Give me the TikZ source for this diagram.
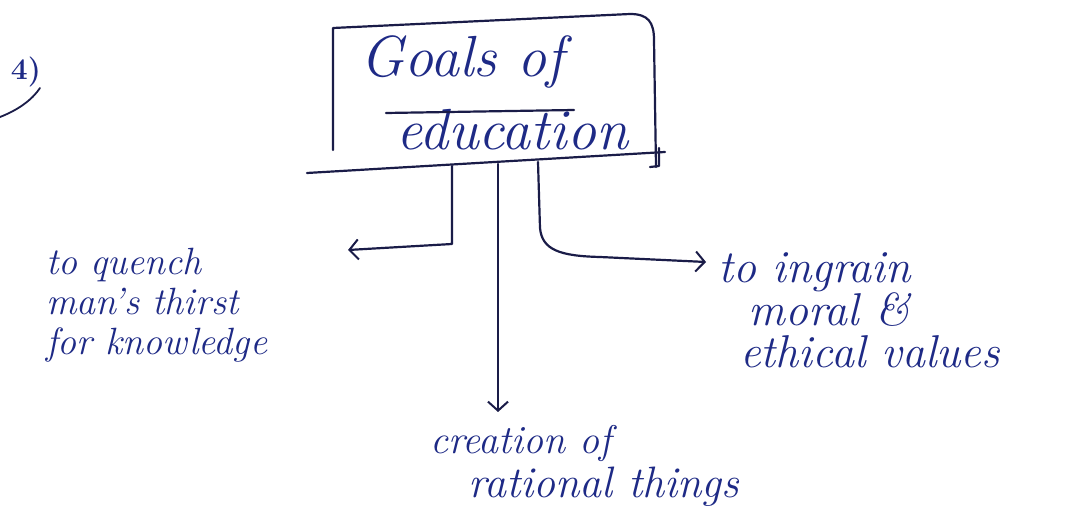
\documentclass[tikz,border=0pt]{standalone}
\usetikzlibrary{arrows.meta}
\definecolor{ink}{HTML}{1E2A86}
\definecolor{pen}{HTML}{1A1C48}
\begin{document}
\begin{tikzpicture}[x=1pt,y=-1pt,
  line/.style={draw=pen,line width=2.2pt,line cap=round,line join=round},
  conn/.style={line,-{Straight Barb[length=9pt,width=20pt,line width=2pt]}},
  lbl/.style={text=ink,align=left,inner sep=0pt,anchor=west},
  ttl/.style={text=ink,font=\fontsize{58}{60}\selectfont\itshape,inner sep=0pt}]
\useasboundingbox[fill=white] (0,0) rectangle (1072,518);
% number mark
\node[text=ink,font=\fontsize{30}{32}\selectfont\bfseries,inner sep=0pt] (num) at (26,72) {4)};
\draw[draw=pen,line width=1.8pt,line cap=round] (40,88) .. controls (32,100) and (18,110) .. (0,117);
% box
\draw[line] (333,150) -- (333,28) -- (630,14) .. controls (648,14) and (654,22) .. (654,40) -- (656,167);
\draw[line] (307,173) -- (665,152);
\draw[line] (659,148) -- (659,166) -- (650,167);
\node[ttl] (g1) at (462,62) {Goals of};
\node[ttl] (g2) at (512,130) {education};
\draw[line] (386,113) -- (574,110);
\coordinate (sL) at (452,166);
\coordinate (sM) at (498,164);
\coordinate (sR) at (538,162);
% labels
\node[lbl,font=\fontsize{38}{40}\selectfont\itshape] (left) at (46,305) {to quench\\man's thirst\\for knowledge};
\node[lbl,font=\fontsize{46}{42}\selectfont\itshape] (right) at (718,310) {to ingrain\\\hspace*{30pt}moral \&\\\hspace*{22pt}ethical values};
\node[lbl,font=\fontsize{40}{44}\selectfont\itshape] (bottom) at (430,466) {creation of\\\hspace*{38pt}{\fontsize{44}{44}\selectfont rational things}};
% connectors
\coordinate (eL) at (348,250);
\coordinate (eM) at (498,412);
\coordinate (eR) at (706,262);
\draw[conn] (sL) -- (452,244) -- (eL);
\draw[conn] (sM) -- (eM);
\draw[conn] (sR) -- (540,228) .. controls (542,250) and (560,256) .. (600,257) -- (eR);
\end{tikzpicture}
\end{document}
